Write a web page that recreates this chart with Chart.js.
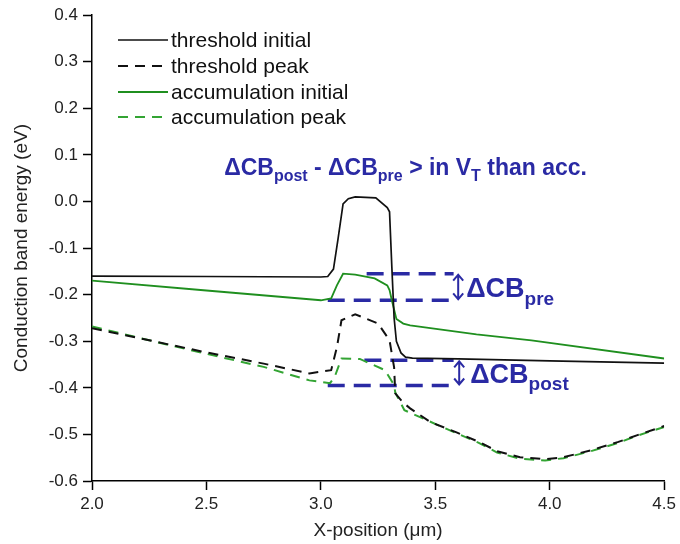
<!DOCTYPE html>
<html>
<head>
<meta charset="utf-8">
<script src="https://cdn.jsdelivr.net/npm/chart.js@4"></script>
<style>
  body { margin: 0; background: #fff; }
</style>
</head>
<body>
<canvas id="cbChart" width="680" height="544"></canvas>
<script>
// series (x in um, energy in eV)
var thrInitX = [2.0, 2.5, 3.0, 3.03, 3.055, 3.075, 3.097, 3.12, 3.15, 3.24, 3.29, 3.30, 3.31, 3.32, 3.33, 3.35, 3.37, 3.40, 3.6, 4.0, 4.5];
var thrInitY = [-0.160, -0.161, -0.162, -0.161, -0.145, -0.08, -0.005, 0.006, 0.010, 0.008, -0.013, -0.022, -0.14, -0.25, -0.30, -0.325, -0.334, -0.336, -0.338, -0.342, -0.347];

var thrPeakX = [2.0, 2.25, 2.5, 2.75, 2.95, 3.045, 3.07, 3.09, 3.15, 3.25, 3.30, 3.32, 3.325, 3.36, 3.39, 3.48, 3.59, 3.69, 3.77, 3.87, 3.98, 4.06, 4.18, 4.30, 4.38, 4.5];
var thrPeakY = [-0.272, -0.298, -0.324, -0.348, -0.369, -0.362, -0.313, -0.255, -0.242, -0.262, -0.298, -0.356, -0.412, -0.432, -0.444, -0.474, -0.495, -0.516, -0.536, -0.549, -0.553, -0.549, -0.534, -0.516, -0.502, -0.482];

var accInitX = [2.0, 2.5, 3.0, 3.045, 3.07, 3.097, 3.15, 3.235, 3.29, 3.30, 3.31, 3.33, 3.36, 3.39, 3.68, 3.92, 4.5];
var accInitY = [-0.170, -0.191, -0.212, -0.208, -0.18, -0.155, -0.157, -0.165, -0.18, -0.19, -0.212, -0.252, -0.262, -0.266, -0.285, -0.298, -0.337];

var accPeakX = [2.0, 2.25, 2.5, 2.75, 2.95, 3.04, 3.06, 3.09, 3.17, 3.28, 3.32, 3.325, 3.365, 3.47, 3.59, 3.69, 3.77, 3.87, 3.98, 4.06, 4.18, 4.30, 4.38, 4.5];
var accPeakY = [-0.268, -0.298, -0.327, -0.355, -0.384, -0.390, -0.377, -0.337, -0.338, -0.362, -0.394, -0.41, -0.448, -0.471, -0.497, -0.518, -0.539, -0.552, -0.556, -0.551, -0.536, -0.518, -0.503, -0.484];

// delta CB markers: levels and x spans
var preLevels = [-0.155, -0.212];
var preStarts = [3.2, 3.03];
var postLevels = [-0.341, -0.395];
var postStarts = [3.19, 3.03];
var markEnd = 3.6;

var xTicks = [2.0, 2.5, 3.0, 3.5, 4.0, 4.5];

var blue = '#2a2aa4';
var green = '#1f8f1f';
var green2 = '#33a433';
var fontFam = 'Arial, "Liberation Sans"';

function pts(xs, ys) {
    return xs.map(function (x, i) { return { x: x, y: ys[i] }; });
}

var datasets = [
    { label: 'threshold initial', data: pts(thrInitX, thrInitY), borderColor: '#111', borderWidth: 1.7 },
    { label: 'threshold peak', data: pts(thrPeakX, thrPeakY), borderColor: '#111', borderWidth: 2, borderDash: [10, 7] },
    { label: 'accumulation initial', data: pts(accInitX, accInitY), borderColor: green, borderWidth: 1.8 },
    { label: 'accumulation peak', data: pts(accPeakX, accPeakY), borderColor: green2, borderWidth: 2, borderDash: [10, 7] }
];

// blue dashed guide lines
[[preLevels, preStarts], [postLevels, postStarts]].forEach(function (p) {
    p[0].forEach(function (lv, i) {
        datasets.push({
            label: '', guide: true,
            data: [{ x: p[1][i], y: lv }, { x: markEnd - 0.02, y: lv }],
            borderColor: blue, borderWidth: 3.5, borderDash: [17, 9]
        });
    });
});

function drawSubText(ctx, parts, x, y, big, small, align) {
    // parts: [text, isSub]
    var w = 0;
    parts.forEach(function (p) {
        ctx.font = 'bold ' + (p[1] ? small : big) + 'px ' + fontFam;
        w += ctx.measureText(p[0]).width;
    });
    var cx = align === 'center' ? x - w / 2 : x;
    parts.forEach(function (p) {
        ctx.font = 'bold ' + (p[1] ? small : big) + 'px ' + fontFam;
        ctx.fillText(p[0], cx, p[1] ? y + big * 0.28 : y);
        cx += ctx.measureText(p[0]).width;
    });
}

function arrow(ctx, x, y1, y2) {
    ctx.beginPath();
    ctx.moveTo(x, y1 + 2); ctx.lineTo(x, y2 - 2);
    ctx.moveTo(x - 5, y1 + 7); ctx.lineTo(x, y1 + 1); ctx.lineTo(x + 5, y1 + 7);
    ctx.moveTo(x - 5, y2 - 7); ctx.lineTo(x, y2 - 1); ctx.lineTo(x + 5, y2 - 7);
    ctx.stroke();
}

var extras = {
    id: 'extras',
    afterDatasetsDraw: function (chart) {
        var ctx = chart.ctx;
        var xs = chart.scales.x, ys = chart.scales.y;
        ctx.save();

        // legend
        var rows = [40, 66, 92, 117];
        ctx.textBaseline = 'middle';
        for (var i = 0; i < 4; i++) {
            var ds = chart.data.datasets[i];
            ctx.strokeStyle = ds.borderColor;
            ctx.lineWidth = ds.borderWidth;
            ctx.setLineDash(ds.borderDash || []);
            ctx.beginPath();
            ctx.moveTo(118, rows[i]); ctx.lineTo(168, rows[i]);
            ctx.stroke();
            ctx.setLineDash([]);
            ctx.fillStyle = '#111';
            ctx.font = '21px ' + fontFam;
            ctx.fillText(ds.label, 171, rows[i] + 1);
        }

        // arrows
        ctx.strokeStyle = blue;
        ctx.lineWidth = 2;
        var ax = xs.getPixelForValue(markEnd);
        arrow(ctx, ax, ys.getPixelForValue(preLevels[0]), ys.getPixelForValue(preLevels[1]));
        arrow(ctx, ax + 1, ys.getPixelForValue(postLevels[0]), ys.getPixelForValue(postLevels[1]));

        // labels
        ctx.fillStyle = blue;
        ctx.textBaseline = 'alphabetic';
        ctx.textAlign = 'left';
        var tx = xs.getPixelForValue(markEnd) + 8;
        drawSubText(ctx, [['\u0394CB', false], ['pre', true]], tx,
            (ys.getPixelForValue(preLevels[0]) + ys.getPixelForValue(preLevels[1])) / 2 + 10, 27, 19);
        drawSubText(ctx, [['\u0394CB', false], ['post', true]], tx + 4,
            (ys.getPixelForValue(postLevels[0]) + ys.getPixelForValue(postLevels[1])) / 2 + 10, 27, 19);

        drawSubText(ctx, [['\u0394CB', false], ['post', true], [' - \u0394CB', false], ['pre', true],
            [' > in V', false], ['T', true], [' than acc.', false]],
            xs.getPixelForValue(3.37), ys.getPixelForValue(0.057), 23, 16, 'center');

        ctx.restore();
    }
};

new Chart(document.getElementById('cbChart').getContext('2d'), {
    type: 'line',
    data: { datasets: datasets },
    options: {
        responsive: false,
        animation: false,
        layout: { padding: { top: 6, right: 10, left: 0, bottom: 0 } },
        elements: { point: { radius: 0 }, line: { tension: 0 } },
        plugins: { legend: { display: false }, tooltip: { enabled: false } },
        scales: {
            x: {
                type: 'linear', min: 2.0, max: 4.5,
                afterBuildTicks: function (s) { s.ticks = xTicks.map(function (v) { return { value: v }; }); },
                afterFit: function (s) { s.height = 63; },
                grid: { drawOnChartArea: false, tickLength: 9, tickColor: '#000', tickWidth: 1.5 },
                border: { color: '#000', width: 1.5 },
                ticks: { color: '#222', font: { size: 17, family: fontFam }, padding: 4,
                    maxRotation: 0, callback: function (v) { return v.toFixed(1); } },
                title: { display: true, text: 'X-position (\u03bcm)', color: '#222',
                    font: { size: 19, family: fontFam }, padding: { top: 0, bottom: 2 } }
            },
            y: {
                min: -0.6, max: 0.4,
                afterFit: function (s) { s.width = 92; },
                grid: { drawOnChartArea: false, tickLength: 9, tickColor: '#000', tickWidth: 1.5 },
                border: { color: '#000', width: 1.5 },
                ticks: { stepSize: 0.1, color: '#222', font: { size: 17, family: fontFam }, padding: 5,
                    callback: function (v) { return (Math.abs(v) < 1e-9 ? 0 : v).toFixed(1); } },
                title: { display: true, text: 'Conduction band energy (eV)', color: '#222',
                    font: { size: 19, family: fontFam }, padding: { top: 10, bottom: 0 } }
            }
        }
    },
    plugins: [extras]
});
</script>
</body>
</html>
